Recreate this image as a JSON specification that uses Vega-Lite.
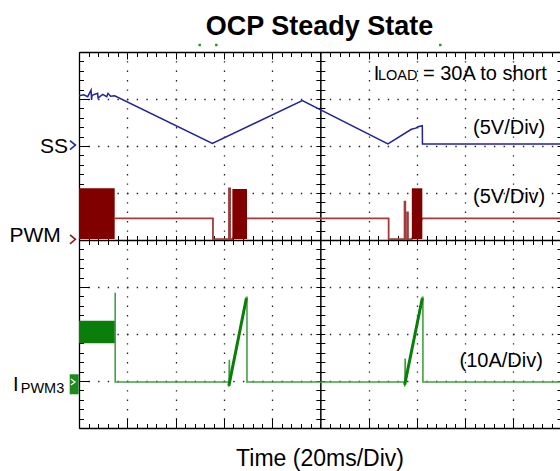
{
 "$schema": "https://vega.github.io/schema/vega-lite/v6.json",
 "width": 481, "height": 376,
 "autosize": {"type": "none"},
 "padding": {"left": 79, "top": 52, "right": 0, "bottom": 43},
 "background": "white",
 "config": {"font": "Liberation Sans", "view": {"stroke": null}, "axis": {"labels": false, "domainColor": "black", "tickColor": "black", "grid": false}},
 "resolve": {"axis": {"x": "independent", "y": "independent"}},
 "datasets": {
  "traces": [
   {"s": "SS", "i": 0, "t": 0, "v": 3.07}, {"s": "SS", "i": 1, "t": 2.0, "v": 3.09}, {"s": "SS", "i": 2, "t": 3.6, "v": 3.05},
   {"s": "SS", "i": 3, "t": 5.0, "v": 3.19}, {"s": "SS", "i": 4, "t": 5.2, "v": 2.98}, {"s": "SS", "i": 5, "t": 5.4, "v": 3.08},
   {"s": "SS", "i": 6, "t": 7.7, "v": 3.12}, {"s": "SS", "i": 7, "t": 7.9, "v": 3.02}, {"s": "SS", "i": 8, "t": 9.8, "v": 3.10},
   {"s": "SS", "i": 9, "t": 11.5, "v": 3.05}, {"s": "SS", "i": 10, "t": 12.0, "v": 3.12}, {"s": "SS", "i": 11, "t": 13.1, "v": 3.06},
   {"s": "SS", "i": 12, "t": 14.8, "v": 3.07}, {"s": "SS", "i": 13, "t": 55.26, "v": 2.057}, {"s": "SS", "i": 14, "t": 92.54, "v": 2.964},
   {"s": "SS", "i": 15, "t": 128.0, "v": 2.043}, {"s": "SS", "i": 16, "t": 137.7, "v": 2.355}, {"s": "SS", "i": 17, "t": 139.5, "v": 2.38},
   {"s": "SS", "i": 18, "t": 140.5, "v": 2.41}, {"s": "SS", "i": 19, "t": 142.25, "v": 2.43}, {"s": "SS", "i": 20, "t": 142.3, "v": 2.043},
   {"s": "SS", "i": 21, "t": 199.3, "v": 2.043},
   {"s": "PWM", "i": 0, "t": 14.79, "v": 0.462}, {"s": "PWM", "i": 1, "t": 55.51, "v": 0.462}, {"s": "PWM", "i": 2, "t": 55.51, "v": 0.02},
   {"s": "PWM", "i": 3, "t": 62.14, "v": 0.02}, {"s": "PWM", "i": 4, "t": 62.14, "v": 1.10}, {"s": "PWM", "i": 5, "t": 62.6, "v": 1.10},
   {"s": "PWM", "i": 6, "t": 62.6, "v": 0.02}, {"s": "PWM", "i": 7, "t": 63.55, "v": 0.02}, {"s": "PWM", "i": 8, "t": 69.6, "v": 0.462},
   {"s": "PWM", "i": 9, "t": 128.3, "v": 0.462}, {"s": "PWM", "i": 10, "t": 128.3, "v": 0.02}, {"s": "PWM", "i": 11, "t": 134.9, "v": 0.02},
   {"s": "PWM", "i": 12, "t": 134.9, "v": 0.815}, {"s": "PWM", "i": 13, "t": 135.2, "v": 0.815}, {"s": "PWM", "i": 14, "t": 135.2, "v": 0.02},
   {"s": "PWM", "i": 15, "t": 136.0, "v": 0.02}, {"s": "PWM", "i": 16, "t": 136.0, "v": 0.589}, {"s": "PWM", "i": 17, "t": 136.3, "v": 0.589},
   {"s": "PWM", "i": 18, "t": 136.3, "v": 0.02}, {"s": "PWM", "i": 19, "t": 137.9, "v": 0.02}, {"s": "PWM", "i": 20, "t": 142.25, "v": 0.462},
   {"s": "PWM", "i": 21, "t": 199.3, "v": 0.462},
   {"s": "I", "i": 0, "t": 15.0, "v": -1.12}, {"s": "I", "i": 1, "t": 15.0, "v": -3.021}, {"s": "I", "i": 2, "t": 62.0, "v": -3.021},
   {"s": "I", "i": 3, "t": 62.1, "v": -3.12}, {"s": "I", "i": 4, "t": 62.3, "v": -2.55}, {"s": "I", "i": 5, "t": 62.45, "v": -3.0},
   {"s": "I", "i": 6, "t": 69.35, "v": -1.22}, {"s": "I", "i": 7, "t": 69.6, "v": -1.22}, {"s": "I", "i": 8, "t": 69.6, "v": -3.021},
   {"s": "I", "i": 9, "t": 134.9, "v": -3.021}, {"s": "I", "i": 10, "t": 135.0, "v": -3.12}, {"s": "I", "i": 11, "t": 135.15, "v": -2.52},
   {"s": "I", "i": 12, "t": 135.3, "v": -3.0}, {"s": "I", "i": 13, "t": 142.25, "v": -1.22}, {"s": "I", "i": 14, "t": 142.5, "v": -1.22},
   {"s": "I", "i": 15, "t": 142.5, "v": -3.021}, {"s": "I", "i": 16, "t": 199.3, "v": -3.021},
   {"s": "R1", "i": 0, "t": 62.1, "v": -3.1}, {"s": "R1", "i": 1, "t": 69.35, "v": -1.24},
   {"s": "R2", "i": 0, "t": 134.95, "v": -3.08}, {"s": "R2", "i": 1, "t": 142.25, "v": -1.24}
  ],
  "bursts": [
   {"s": "PWM", "t0": 0, "t1": 14.79, "lo": 0.02, "hi": 1.10},
   {"s": "PWM", "t0": 63.55, "t1": 69.6, "lo": 0.02, "hi": 1.085},
   {"s": "PWM", "t0": 137.9, "t1": 142.25, "lo": 0.02, "hi": 1.10},
   {"s": "I", "t0": 0, "t1": 14.79, "lo": -2.198, "hi": -1.717}
  ],
  "labels": [
   {"k": "title", "t": 99.65, "v": 4.37, "text": "OCP Steady State"},
   {"k": "ann", "t": 193.87, "v": 3.404, "text": "= 30A to short"},
   {"k": "ann", "t": 193.2, "v": 2.255, "text": "(5V/Div)"},
   {"k": "ann", "t": 193.2, "v": 0.78, "text": "(5V/Div)"},
   {"k": "ann", "t": 192.2, "v": -2.709, "text": "(10A/Div)"},
   {"k": "Ibig", "t": 122.1, "v": 3.404, "text": "I"},
   {"k": "sub", "t": 123.9, "v": 3.404, "text": "LOAD"},
   {"k": "Ibig", "t": -27.3, "v": -3.206, "text": "I"},
   {"k": "sub", "t": -24.15, "v": -3.262, "text": "PWM3"},
   {"k": "side", "t": -4.56, "v": 1.844, "text": "SS"},
   {"k": "side", "t": -7.58, "v": -0.05, "text": "PWM"},
   {"k": "chevSS", "t": -2.61, "v": 2.02, "text": ""},
   {"k": "chevPWM", "t": -2.61, "v": 0.015, "text": ""},
   {"k": "box", "t": -1.99, "v": -3.07, "text": ""},
   {"k": "chevI", "t": -2.49, "v": -3.02, "text": ""},
   {"k": "trig", "t": 50.0, "v": 4.149, "text": ""},
   {"k": "trig", "t": 56.9, "v": 4.149, "text": ""},
   {"k": "trig", "t": 149.7, "v": 4.149, "text": ""}
  ]
 },
 "layer": [
  {
   "data": {"name": "traces"},
   "transform": [{"filter": "datum.s === 'SS'"}],
   "mark": {"type": "line", "color": "#23239a", "strokeWidth": 1.5},
   "encoding": {
    "x": {"field": "t", "type": "quantitative", "scale": {"domain": [0, 199.3], "nice": false, "zero": false},
          "axis": {"orient": "bottom", "values": [0,4,8,12,16,20,24,28,32,36,40,44,48,52,56,60,64,68,72,76,80,84,88,92,96,100,104,108,112,116,120,124,128,132,136,140,144,148,152,156,160,164,168,172,176,180,184,188,192,196],
                   "tickSize": -4.5, "domain": true, "domainWidth": 1.3, "labels": false,
                   "title": "Time (20ms/Div)", "titleFontSize": 23, "titleFontWeight": "normal", "titleColor": "black", "titleBaseline": "alphabetic", "titlePadding": 37}},
    "y": {"field": "v", "type": "quantitative", "scale": {"domain": [-4, 4], "nice": false, "zero": false},
          "axis": {"orient": "left", "values": [-4,-3.8,-3.6,-3.4,-3.2,-3,-2.8,-2.6,-2.4,-2.2,-2,-1.8,-1.6,-1.4,-1.2,-1,-0.8,-0.6,-0.4,-0.2,0,0.2,0.4,0.6,0.8,1,1.2,1.4,1.6,1.8,2,2.2,2.4,2.6,2.8,3,3.2,3.4,3.6,3.8,4],
                   "tickSize": -4.5, "domain": true, "domainWidth": 1.3, "labels": false, "title": null}},
    "order": {"field": "i"}
   }
  },
  {
   "data": {"name": "traces"},
   "transform": [{"filter": "datum.s === 'PWM'"}],
   "mark": {"type": "line", "color": "#a33b3b", "strokeWidth": 1.8},
   "encoding": {
    "x": {"field": "t", "type": "quantitative",
          "axis": {"orient": "top", "values": [0,4,8,12,16,20,24,28,32,36,40,44,48,52,56,60,64,68,72,76,80,84,88,92,96,100,104,108,112,116,120,124,128,132,136,140,144,148,152,156,160,164,168,172,176,180,184,188,192,196],
                   "tickSize": -4.5, "domain": true, "domainWidth": 1.3, "labels": false, "title": null}},
    "y": {"field": "v", "type": "quantitative",
          "axis": {"orient": "left", "offset": -241.35, "values": [-4,-3.8,-3.6,-3.4,-3.2,-3,-2.8,-2.6,-2.4,-2.2,-2,-1.8,-1.6,-1.4,-1.2,-1,-0.8,-0.6,-0.4,-0.2,0,0.2,0.4,0.6,0.8,1,1.2,1.4,1.6,1.8,2,2.2,2.4,2.6,2.8,3,3.2,3.4,3.6,3.8,4],
                   "tickSize": 4.5, "domain": true, "domainWidth": 1.5, "labels": false, "title": null}},
    "order": {"field": "i"}
   }
  },
  {
   "data": {"name": "bursts"},
   "transform": [{"filter": "datum.s === 'PWM'"}],
   "mark": {"type": "rect", "color": "#800000"},
   "encoding": {
    "x": {"field": "t0", "type": "quantitative",
          "axis": {"orient": "bottom", "offset": -188, "values": [0,4,8,12,16,20,24,28,32,36,40,44,48,52,56,60,64,68,72,76,80,84,88,92,96,100,104,108,112,116,120,124,128,132,136,140,144,148,152,156,160,164,168,172,176,180,184,188,192,196],
                   "tickSize": 4.5, "domain": true, "domainWidth": 1.5, "labels": false, "title": null}},
    "x2": {"field": "t1"},
    "y": {"field": "lo", "type": "quantitative",
          "axis": {"orient": "right", "offset": -239.65, "values": [-4,-3.8,-3.6,-3.4,-3.2,-3,-2.8,-2.6,-2.4,-2.2,-2,-1.8,-1.6,-1.4,-1.2,-1,-0.8,-0.6,-0.4,-0.2,0,0.2,0.4,0.6,0.8,1,1.2,1.4,1.6,1.8,2,2.2,2.4,2.6,2.8,3,3.2,3.4,3.6,3.8,4],
                   "tickSize": 4.5, "domain": false, "labels": false, "title": null}},
    "y2": {"field": "hi"}
   }
  },
  {
   "data": {"name": "traces"},
   "transform": [{"filter": "datum.s === 'I'"}],
   "mark": {"type": "line", "color": "#3fa33f", "strokeWidth": 1.6},
   "encoding": {
    "x": {"field": "t", "type": "quantitative",
          "axis": {"orient": "top", "offset": -188, "values": [0,4,8,12,16,20,24,28,32,36,40,44,48,52,56,60,64,68,72,76,80,84,88,92,96,100,104,108,112,116,120,124,128,132,136,140,144,148,152,156,160,164,168,172,176,180,184,188,192,196],
                   "tickSize": 4.5, "domain": false, "labels": false, "title": null}},
    "y": {"field": "v", "type": "quantitative",
          "axis": {"orient": "right", "values": [-4,-3.8,-3.6,-3.4,-3.2,-3,-2.8,-2.6,-2.4,-2.2,-2,-1.8,-1.6,-1.4,-1.2,-1,-0.8,-0.6,-0.4,-0.2,0,0.2,0.4,0.6,0.8,1,1.2,1.4,1.6,1.8,2,2.2,2.4,2.6,2.8,3,3.2,3.4,3.6,3.8,4],
                   "tickSize": -3, "domain": false, "labels": false, "title": null}},
    "order": {"field": "i"}
   }
  },
  {
   "data": {"name": "bursts"},
   "transform": [{"filter": "datum.s === 'I'"}],
   "mark": {"type": "rect", "color": "#0a7d0a"},
   "encoding": {
    "x": {"field": "t0", "type": "quantitative",
          "axis": {"orient": "bottom", "values": [20,40,60,80,120,140,160,180], "grid": true, "gridColor": "#222", "gridDash": [1.4, 8.0], "gridDashOffset": 0.7, "gridWidth": 1.3,
                   "ticks": false, "domain": false, "labels": false, "title": null}},
    "x2": {"field": "t1"},
    "y": {"field": "lo", "type": "quantitative",
          "axis": {"orient": "left", "values": [-3,-2,-1,1,2,3], "grid": true, "gridColor": "#222", "gridDash": [1.4, 8.254], "gridDashOffset": 0.7, "gridWidth": 1.3,
                   "ticks": false, "domain": false, "labels": false, "title": null}},
    "y2": {"field": "hi"}
   }
  },
  {
   "data": {"name": "traces"},
   "transform": [{"filter": "datum.s === 'R1' || datum.s === 'R2'"}],
   "mark": {"type": "line", "color": "#0b7d0b", "strokeWidth": 3},
   "encoding": {
    "x": {"field": "t", "type": "quantitative",
          "axis": {"orient": "top", "values": [20,40,60,80,120,140,160,180], "tickSize": -7, "domain": false, "labels": false, "title": null}},
    "y": {"field": "v", "type": "quantitative",
          "axis": {"orient": "left", "values": [-3,-2,-1,1,2,3], "tickSize": -10, "domain": false, "labels": false, "title": null}},
    "detail": {"field": "s"},
    "order": {"field": "i"}
   }
  },
  {
   "data": {"name": "labels"},
   "transform": [{"filter": "datum.k === 'title'"}],
   "mark": {"type": "text", "align": "center", "baseline": "alphabetic", "fontSize": 27, "fontWeight": "bold", "color": "black"},
   "encoding": {
    "x": {"field": "t", "type": "quantitative", "axis": null},
    "y": {"field": "v", "type": "quantitative", "axis": null},
    "text": {"field": "text"}
   }
  },
  {
   "data": {"name": "labels"},
   "transform": [{"filter": "datum.k === 'ann'"}],
   "mark": {"type": "text", "align": "right", "baseline": "alphabetic", "fontSize": 20, "color": "black"},
   "encoding": {
    "x": {"field": "t", "type": "quantitative",
          "axis": {"orient": "bottom", "values": [20,40,60,80,120,140,160,180], "tickSize": -10, "domain": false, "labels": false, "title": null}},
    "y": {"field": "v", "type": "quantitative", "axis": null},
    "text": {"field": "text"}
   }
  },
  {
   "data": {"name": "labels"},
   "transform": [{"filter": "datum.k === 'Ibig'"}],
   "mark": {"type": "text", "align": "left", "baseline": "alphabetic", "fontSize": 20, "color": "black"},
   "encoding": {
    "x": {"field": "t", "type": "quantitative", "axis": null},
    "y": {"field": "v", "type": "quantitative", "axis": null},
    "text": {"field": "text"}
   }
  },
  {
   "data": {"name": "labels"},
   "transform": [{"filter": "datum.k === 'sub'"}],
   "mark": {"type": "text", "align": "left", "baseline": "alphabetic", "fontSize": 14.5, "color": "black"},
   "encoding": {
    "x": {"field": "t", "type": "quantitative", "axis": null},
    "y": {"field": "v", "type": "quantitative", "axis": null},
    "text": {"field": "text"}
   }
  },
  {
   "data": {"name": "labels"},
   "transform": [{"filter": "datum.k === 'side'"}],
   "mark": {"type": "text", "align": "right", "baseline": "alphabetic", "fontSize": 21, "color": "black"},
   "encoding": {
    "x": {"field": "t", "type": "quantitative", "axis": null},
    "y": {"field": "v", "type": "quantitative", "axis": null},
    "text": {"field": "text"}
   }
  },
  {
   "data": {"name": "labels"},
   "transform": [{"filter": "datum.k === 'chevSS'"}],
   "mark": {"type": "point", "shape": "M-0.6,-1L0.6,0L-0.6,1", "filled": false, "size": 81, "strokeWidth": 1.6, "color": "#2424a8", "opacity": 1},
   "encoding": {
    "x": {"field": "t", "type": "quantitative", "axis": null},
    "y": {"field": "v", "type": "quantitative", "axis": null}
   }
  },
  {
   "data": {"name": "labels"},
   "transform": [{"filter": "datum.k === 'chevPWM'"}],
   "mark": {"type": "point", "shape": "M-0.6,-1L0.6,0L-0.6,1", "filled": false, "size": 81, "strokeWidth": 1.6, "color": "#8b1c1c", "opacity": 1},
   "encoding": {
    "x": {"field": "t", "type": "quantitative", "axis": null},
    "y": {"field": "v", "type": "quantitative", "axis": null}
   }
  },
  {
   "data": {"name": "labels"},
   "transform": [{"filter": "datum.k === 'box'"}],
   "mark": {"type": "point", "shape": "M-0.45,-1L0.45,-1L0.45,1L-0.45,1Z", "filled": true, "size": 400, "color": "#1e8a1e", "opacity": 1},
   "encoding": {
    "x": {"field": "t", "type": "quantitative", "axis": null},
    "y": {"field": "v", "type": "quantitative", "axis": null}
   }
  },
  {
   "data": {"name": "labels"},
   "transform": [{"filter": "datum.k === 'chevI'"}],
   "mark": {"type": "point", "shape": "M-0.7,-1L0.7,0L-0.7,1", "filled": false, "size": 36, "strokeWidth": 1.3, "color": "white", "opacity": 1},
   "encoding": {
    "x": {"field": "t", "type": "quantitative", "axis": null},
    "y": {"field": "v", "type": "quantitative", "axis": null}
   }
  },
  {
   "data": {"name": "labels"},
   "transform": [{"filter": "datum.k === 'trig'"}],
   "mark": {"type": "point", "shape": "square", "filled": true, "size": 6, "color": "#1a9a1a", "opacity": 1},
   "encoding": {
    "x": {"field": "t", "type": "quantitative", "axis": null},
    "y": {"field": "v", "type": "quantitative", "axis": null}
   }
  }
 ]
}
